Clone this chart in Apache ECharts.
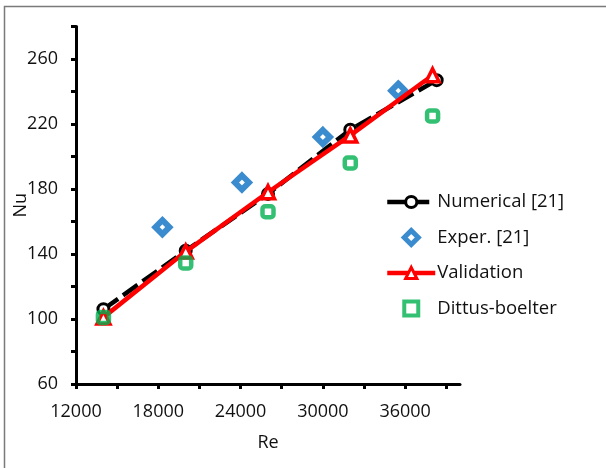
<!DOCTYPE html>
<html>
<head>
<meta charset="utf-8">
<script src="https://cdn.jsdelivr.net/npm/echarts@6/dist/echarts.min.js"></script>
<style>
  html, body { margin: 0; padding: 0; background: #fff; }
  #chart { width: 606px; height: 468px; }
</style>
</head>
<body>
<div id="chart"></div>
<script>
// Nusselt number vs Reynolds number
const numericalRe = [14000, 20000, 26000, 32000, 38300];
const numericalNu = [106, 142, 177, 216.5, 247];

const experRe = [18300, 24100, 30000, 35500];
const experNu = [156.5, 184, 212, 240.5];

const validationRe = [14000, 20000, 26000, 32000, 38000];
const validationNu = [101, 141.5, 178, 213, 250];

const dittusRe = [14000, 20000, 26000, 32000, 38000];
const dittusNu = [101, 134.5, 166, 196, 225];

const xTicks = [12000, 15000, 18000, 21000, 24000, 27000, 30000, 33000, 36000, 39000];
const xLabels = [12000, 18000, 24000, 30000, 36000];
const yTicks = [60, 80, 100, 120, 140, 160, 180, 200, 220, 240, 260, 280];
const yLabels = [60, 100, 140, 180, 220, 260];

const pairs = (xs, ys) => xs.map((x, i) => [x, ys[i]]);

const FONT = 'Open Sans';
const BLACK = '#000000';
const BLUE = '#0a6fc2';
const RED = '#ff0000';
const GREEN = '#00b050';

const chart = echarts.init(document.getElementById('chart'), null, { renderer: 'canvas' });

chart.setOption({
  animation: false,
  backgroundColor: '#ffffff',
  textStyle: { fontFamily: FONT },
  graphic: [{
    type: 'rect',
    silent: true,
    shape: { x: 4.5, y: 6.5, width: 700, height: 600 },
    style: { fill: 'none', stroke: '#7a7a7a', lineWidth: 1.5 },
    z: -10
  }],
  grid: { left: 76, right: 146, top: 26.5, bottom: 84, containLabel: false, outerBoundsMode: 'none' },
  xAxis: {
    type: 'value',
    min: 12000,
    max: 40000,
    name: 'Re',
    nameLocation: 'middle',
    nameGap: 50,
    nameMoveOverlap: false,
    nameTextStyle: { fontSize: 18, color: '#111', fontFamily: FONT },
    axisLine: { show: true, onZero: false, lineStyle: { color: BLACK, width: 3 } },
    axisTick: { show: true, customValues: xTicks, length: 5, lineStyle: { color: BLACK, width: 3 } },
    axisLabel: {
      customValues: xLabels, margin: 19, fontSize: 18, color: '#111', fontFamily: FONT,
      formatter: v => String(v)
    },
    splitLine: { show: false }
  },
  yAxis: {
    type: 'value',
    min: 60,
    max: 280,
    name: 'Nu',
    nameLocation: 'middle',
    nameGap: 46,
    nameMoveOverlap: false,
    nameRotate: 90,
    nameTextStyle: { fontSize: 18, color: '#111', fontFamily: FONT },
    axisLine: { show: true, onZero: false, lineStyle: { color: BLACK, width: 3 } },
    axisTick: { show: true, customValues: yTicks, length: 5, lineStyle: { color: BLACK, width: 3 } },
    axisLabel: { customValues: yLabels, margin: 18, fontSize: 18, color: '#111', fontFamily: FONT },
    splitLine: { show: false }
  },
  legend: {
    orient: 'vertical',
    left: 380,
    top: 187,
    itemWidth: 48,
    itemHeight: 14,
    itemGap: 15.5,
    symbolKeepAspect: true,
    textStyle: { fontSize: 18.5, color: '#111', fontFamily: FONT, lineHeight: 20, padding: [0, 0, 0, -3] },
    data: [
      {
        name: 'Numerical [21]',
        itemStyle: { borderWidth: 3 },
        lineStyle: { width: 4.5, type: [18, 6] }
      },
      {
        name: 'Exper. [21]',
        icon: 'path://M0,-1L1,0L0,1L-1,0Z',
        itemStyle: { borderWidth: 5 }
      },
      {
        name: 'Validation',
        itemStyle: { borderWidth: 3 },
        lineStyle: { width: 4.5 }
      },
      {
        name: 'Dittus-boelter',
        icon: 'path://M0,0H1V1H0Z',
        itemStyle: { borderWidth: 4 }
      }
    ]
  },
  series: [
    {
      name: 'Numerical [21]',
      type: 'line',
      data: pairs(numericalRe, numericalNu),
      symbol: 'circle',
      symbolSize: 11,
      lineStyle: { color: BLACK, width: 4.5, type: [18, 6] },
      itemStyle: { color: '#ffffff', borderColor: BLACK, borderWidth: 3 },
      z: 2
    },
    {
      name: 'Exper. [21]',
      type: 'scatter',
      data: pairs(experRe, experNu),
      symbol: 'diamond',
      symbolSize: 14,
      itemStyle: { color: 'rgba(255,255,255,0)', borderColor: BLUE, borderWidth: 6 },
      z: 3
    },
    {
      name: 'Validation',
      type: 'line',
      data: pairs(validationRe, validationNu),
      symbol: 'triangle',
      symbolSize: 13,
      lineStyle: { color: RED, width: 4.5 },
      itemStyle: { color: '#ffffff', borderColor: RED, borderWidth: 3.5 },
      z: 4
    },
    {
      name: 'Dittus-boelter',
      type: 'scatter',
      data: pairs(dittusRe, dittusNu),
      symbol: 'roundRect',
      symbolSize: 11,
      itemStyle: { color: 'rgba(255,255,255,0)', borderColor: GREEN, borderWidth: 4.5 },
      z: 5
    }
  ]
});
</script>
</body>
</html>
